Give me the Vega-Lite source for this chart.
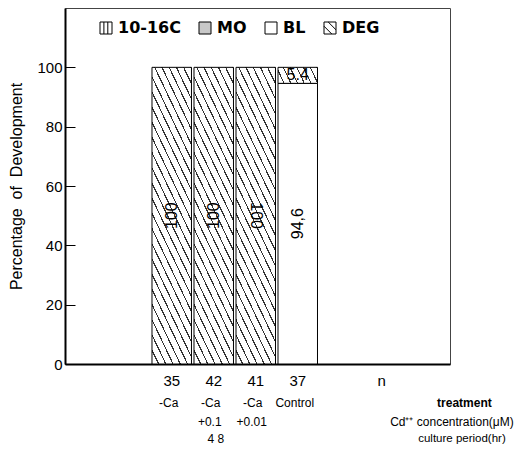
{
  "$schema": "https://vega.github.io/schema/vega-lite/v6.json",
  "width": 385,
  "height": 356,
  "autosize": {"type": "none"},
  "padding": {"left": 65, "top": 8, "right": 67, "bottom": 88},
  "background": "white",
  "config": {
    "view": {"stroke": "#444", "strokeWidth": 1},
    "axis": {"domainColor": "black", "tickColor": "black", "labelColor": "black", "titleColor": "black", "grid": false},
    "text": {"color": "black"}
  },
  "datasets": {
    "bars": [
      {"n": "35", "stage": "DEG", "lo": 0, "hi": 100, "label": "100"},
      {"n": "42", "stage": "DEG", "lo": 0, "hi": 100, "label": "100"},
      {"n": "41", "stage": "DEG", "lo": 0, "hi": 100, "label": "100"},
      {"n": "37", "stage": "BL", "lo": 0, "hi": 94.6, "label": "94,6"},
      {"n": "37", "stage": "DEG", "lo": 94.6, "hi": 100, "label": "5.4"}
    ],
    "cols": [
      {"n": "35", "treatment": "-Ca", "conc": "", "period": ""},
      {"n": "42", "treatment": "-Ca", "conc": "+0.1", "period": "4 8"},
      {"n": "41", "treatment": "-Ca", "conc": "+0.01", "period": ""},
      {"n": "37", "treatment": "Control", "conc": "", "period": ""}
    ],
    "notes": [
      {"n": "n", "treatment": "treatment", "conc": "Cd⁺⁺ concentration(μM)", "period": "culture period(hr)"}
    ]
  },
  "layer": [
    {
      "data": {"name": "bars"},
      "mark": {"type": "bar", "stroke": "black", "strokeWidth": 1},
      "encoding": {
        "x": {
          "field": "n", "type": "nominal",
          "scale": {"domain": ["_a", "_b", "35", "42", "41", "37", "_c", "n", "_d"], "paddingInner": 0.06, "paddingOuter": 0.113, "align": 0.315},
          "axis": {"title": null, "labelAngle": 0, "ticks": false, "domainWidth": 2, "labelFont": "Liberation Sans", "labelFontSize": 15, "labelPadding": 9, "labelExpr": "indexof(datum.value, '_') === 0 ? '' : datum.label"}
        },
        "y": {
          "field": "hi", "type": "quantitative",
          "scale": {"domain": [0, 120], "nice": false},
          "axis": {"values": [0, 20, 40, 60, 80, 100], "title": "Percentage\u00a0 of\u00a0 Development", "titleFont": "Liberation Sans", "titleFontSize": 16, "titleFontWeight": "normal", "titlePadding": 12, "tickSize": -10, "labelPadding": 13, "domainWidth": 2, "labelFont": "Liberation Sans", "labelFontSize": 15}
        },
        "y2": {"field": "lo"},
        "fill": {
          "condition": [
            {"test": "datum.stage === 'DEG' && datum.hi - datum.lo > 50", "value": {"gradient": "linear", "x1": 0, "y1": 1, "x2": 0.3318, "y2": -0.1868, "stops": [
              {"offset": 0, "color": "white"}, {"offset": 0.033, "color": "white"}, {"offset": 0.033, "color": "#333"}, {"offset": 0.04, "color": "#333"},
              {"offset": 0.04, "color": "white"}, {"offset": 0.073, "color": "white"}, {"offset": 0.073, "color": "#333"}, {"offset": 0.08, "color": "#333"},
              {"offset": 0.08, "color": "white"}, {"offset": 0.113, "color": "white"}, {"offset": 0.113, "color": "#333"}, {"offset": 0.12, "color": "#333"},
              {"offset": 0.12, "color": "white"}, {"offset": 0.153, "color": "white"}, {"offset": 0.153, "color": "#333"}, {"offset": 0.16, "color": "#333"},
              {"offset": 0.16, "color": "white"}, {"offset": 0.193, "color": "white"}, {"offset": 0.193, "color": "#333"}, {"offset": 0.2, "color": "#333"},
              {"offset": 0.2, "color": "white"}, {"offset": 0.233, "color": "white"}, {"offset": 0.233, "color": "#333"}, {"offset": 0.24, "color": "#333"},
              {"offset": 0.24, "color": "white"}, {"offset": 0.273, "color": "white"}, {"offset": 0.273, "color": "#333"}, {"offset": 0.28, "color": "#333"},
              {"offset": 0.28, "color": "white"}, {"offset": 0.313, "color": "white"}, {"offset": 0.313, "color": "#333"}, {"offset": 0.32, "color": "#333"},
              {"offset": 0.32, "color": "white"}, {"offset": 0.353, "color": "white"}, {"offset": 0.353, "color": "#333"}, {"offset": 0.36, "color": "#333"},
              {"offset": 0.36, "color": "white"}, {"offset": 0.393, "color": "white"}, {"offset": 0.393, "color": "#333"}, {"offset": 0.4, "color": "#333"},
              {"offset": 0.4, "color": "white"}, {"offset": 0.433, "color": "white"}, {"offset": 0.433, "color": "#333"}, {"offset": 0.44, "color": "#333"},
              {"offset": 0.44, "color": "white"}, {"offset": 0.473, "color": "white"}, {"offset": 0.473, "color": "#333"}, {"offset": 0.48, "color": "#333"},
              {"offset": 0.48, "color": "white"}, {"offset": 0.513, "color": "white"}, {"offset": 0.513, "color": "#333"}, {"offset": 0.52, "color": "#333"},
              {"offset": 0.52, "color": "white"}, {"offset": 0.553, "color": "white"}, {"offset": 0.553, "color": "#333"}, {"offset": 0.56, "color": "#333"},
              {"offset": 0.56, "color": "white"}, {"offset": 0.593, "color": "white"}, {"offset": 0.593, "color": "#333"}, {"offset": 0.6, "color": "#333"},
              {"offset": 0.6, "color": "white"}, {"offset": 0.633, "color": "white"}, {"offset": 0.633, "color": "#333"}, {"offset": 0.64, "color": "#333"},
              {"offset": 0.64, "color": "white"}, {"offset": 0.673, "color": "white"}, {"offset": 0.673, "color": "#333"}, {"offset": 0.68, "color": "#333"},
              {"offset": 0.68, "color": "white"}, {"offset": 0.713, "color": "white"}, {"offset": 0.713, "color": "#333"}, {"offset": 0.72, "color": "#333"},
              {"offset": 0.72, "color": "white"}, {"offset": 0.753, "color": "white"}, {"offset": 0.753, "color": "#333"}, {"offset": 0.76, "color": "#333"},
              {"offset": 0.76, "color": "white"}, {"offset": 0.793, "color": "white"}, {"offset": 0.793, "color": "#333"}, {"offset": 0.8, "color": "#333"},
              {"offset": 0.8, "color": "white"}, {"offset": 0.833, "color": "white"}, {"offset": 0.833, "color": "#333"}, {"offset": 0.84, "color": "#333"},
              {"offset": 0.84, "color": "white"}, {"offset": 0.873, "color": "white"}, {"offset": 0.873, "color": "#333"}, {"offset": 0.88, "color": "#333"},
              {"offset": 0.88, "color": "white"}, {"offset": 0.913, "color": "white"}, {"offset": 0.913, "color": "#333"}, {"offset": 0.92, "color": "#333"},
              {"offset": 0.92, "color": "white"}, {"offset": 0.953, "color": "white"}, {"offset": 0.953, "color": "#333"}, {"offset": 0.96, "color": "#333"},
              {"offset": 0.96, "color": "white"}, {"offset": 0.993, "color": "white"}, {"offset": 0.993, "color": "#333"}, {"offset": 1, "color": "#333"}
            ]}},
            {"test": "datum.stage === 'DEG'", "value": {"gradient": "linear", "x1": 0, "y1": 1, "x2": 1.15, "y2": 0.7782, "stops": [
              {"offset": 0, "color": "white"}, {"offset": 0.119, "color": "white"}, {"offset": 0.119, "color": "#333"}, {"offset": 0.143, "color": "#333"},
              {"offset": 0.143, "color": "white"}, {"offset": 0.262, "color": "white"}, {"offset": 0.262, "color": "#333"}, {"offset": 0.286, "color": "#333"},
              {"offset": 0.286, "color": "white"}, {"offset": 0.405, "color": "white"}, {"offset": 0.405, "color": "#333"}, {"offset": 0.429, "color": "#333"},
              {"offset": 0.429, "color": "white"}, {"offset": 0.548, "color": "white"}, {"offset": 0.548, "color": "#333"}, {"offset": 0.571, "color": "#333"},
              {"offset": 0.571, "color": "white"}, {"offset": 0.69, "color": "white"}, {"offset": 0.69, "color": "#333"}, {"offset": 0.714, "color": "#333"},
              {"offset": 0.714, "color": "white"}, {"offset": 0.833, "color": "white"}, {"offset": 0.833, "color": "#333"}, {"offset": 0.857, "color": "#333"},
              {"offset": 0.857, "color": "white"}, {"offset": 0.976, "color": "white"}, {"offset": 0.976, "color": "#333"}, {"offset": 1, "color": "#333"}
            ]}}
          ],
          "field": "stage", "type": "nominal",
          "scale": {"domain": ["10-16C", "MO", "BL", "DEG"], "range": ["white", "#c8c8c8", "white", "white"]},
          "legend": {
            "orient": "none", "legendX": 33, "legendY": 12, "direction": "horizontal", "title": null,
            "symbolType": "square", "symbolSize": 144, "symbolStrokeColor": "black", "symbolStrokeWidth": 1,
            "labelFont": "DejaVu Sans", "labelFontWeight": "bold", "labelFontSize": 16, "labelColor": "black",
            "columnPadding": 16, "labelOffset": 4,
            "encode": {"symbols": {"update": {
              "shape": {"signal": "datum.value === 'DEG' ? 'M-1,-1H1V1H-1Z M-1,-0.3L0.3,1 M-0.3,-1L1,0.3' : datum.value === '10-16C' ? 'M-1,-1H1V1H-1Z M-0.35,-1V1 M0.3,-1V1' : 'M-1,-1H1V1H-1Z'"},
              "stroke": {"value": "black"},
              "strokeWidth": {"value": 1},
              "opacity": {"value": 1},
              "fill": {"signal": "datum.value === 'MO' ? '#c8c8c8' : 'white'"}
            }}}
          }
        }
      }
    },
    {
      "data": {"name": "bars"},
      "transform": [
        {"fold": ["lo", "hi"], "as": ["end", "v"]},
        {"aggregate": [{"op": "mean", "field": "v", "as": "mid"}, {"op": "max", "field": "v", "as": "top"}, {"op": "min", "field": "v", "as": "bot"}], "groupby": ["n", "stage", "label"]}
      ],
      "mark": {"type": "text", "font": "Liberation Sans", "fontSize": 16, "baseline": "middle", "align": "center"},
      "encoding": {
        "x": {"field": "n", "type": "nominal"},
        "y": {"field": "mid", "type": "quantitative"},
        "text": {"field": "label"},
        "angle": {"condition": [{"test": "datum.top - datum.bot < 20", "value": 0}, {"test": "datum.n === '41'", "value": 90}], "value": 270}
      }
    },
    {
      "data": {"name": "cols"},
      "mark": {"type": "text", "font": "Liberation Sans", "fontSize": 12, "baseline": "middle", "dy": 39, "dx": -3},
      "encoding": {"x": {"field": "n", "type": "nominal"}, "y": {"datum": 0, "type": "quantitative"}, "text": {"field": "treatment"}}
    },
    {
      "data": {"name": "cols"},
      "mark": {"type": "text", "font": "Liberation Sans", "fontSize": 12, "baseline": "middle", "dy": 58, "dx": -4},
      "encoding": {"x": {"field": "n", "type": "nominal"}, "y": {"datum": 0, "type": "quantitative"}, "text": {"field": "conc"}}
    },
    {
      "data": {"name": "cols"},
      "mark": {"type": "text", "font": "Liberation Sans", "fontSize": 12, "baseline": "middle", "dy": 75, "dx": 2},
      "encoding": {"x": {"field": "n", "type": "nominal"}, "y": {"datum": 0, "type": "quantitative"}, "text": {"field": "period"}}
    },
    {
      "data": {"name": "notes"},
      "mark": {"type": "text", "font": "Liberation Sans", "fontSize": 12, "fontWeight": "bold", "baseline": "middle", "align": "right", "dx": 110, "dy": 39},
      "encoding": {"x": {"field": "n", "type": "nominal"}, "y": {"datum": 0, "type": "quantitative"}, "text": {"field": "treatment"}}
    },
    {
      "data": {"name": "notes"},
      "mark": {"type": "text", "font": "Liberation Sans", "fontSize": 12, "baseline": "middle", "align": "right", "dx": 132, "dy": 58},
      "encoding": {"x": {"field": "n", "type": "nominal"}, "y": {"datum": 0, "type": "quantitative"}, "text": {"field": "conc"}}
    },
    {
      "data": {"name": "notes"},
      "mark": {"type": "text", "font": "Liberation Sans", "fontSize": 11.5, "baseline": "middle", "align": "right", "dx": 124, "dy": 75},
      "encoding": {"x": {"field": "n", "type": "nominal"}, "y": {"datum": 0, "type": "quantitative"}, "text": {"field": "period"}}
    }
  ]
}
